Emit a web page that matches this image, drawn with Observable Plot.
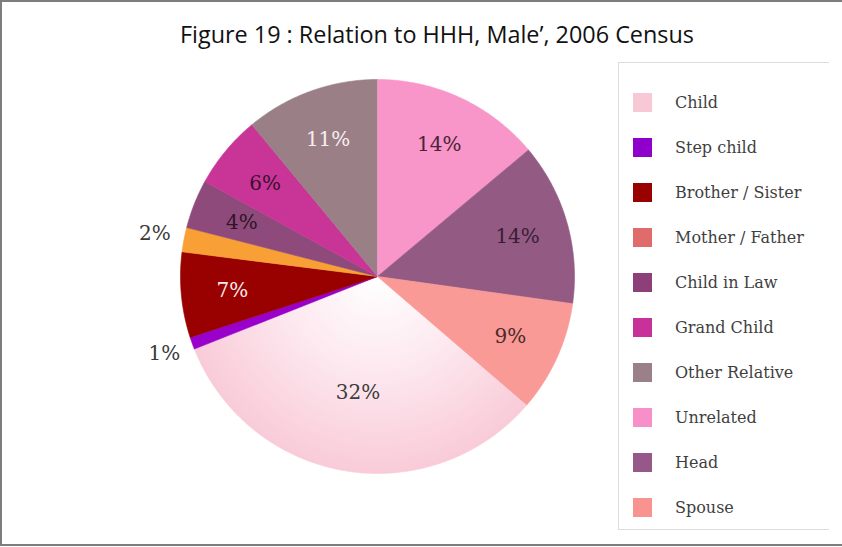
<!DOCTYPE html>
<html>
<head>
<meta charset="utf-8">
<script src="https://cdn.jsdelivr.net/npm/d3@7"></script>
<script src="https://cdn.jsdelivr.net/npm/@observablehq/plot@0.6"></script>
<style>
  html, body { margin: 0; padding: 0; background: #fff; }
  #page { position: relative; width: 842px; height: 547px; overflow: hidden; background: #fff; }
  #frame { position: absolute; left: 0; top: 0; width: 842px; height: 546px;
           border-left: 2px solid #7d7d7d; border-top: 2px solid #7d7d7d; border-bottom: 2px solid #7d7d7d;
           box-sizing: border-box; }
  #title { position: absolute; top: 17px; left: 437px; white-space: nowrap;
           font-family: "Open Sans", sans-serif; font-size: 24px; color: #111;
           transform-origin: center top; }
  #legend { position: absolute; left: 618px; top: 62px; width: 211px; height: 468px;
            border: 1px solid #dcdcdc; border-right: none; box-sizing: border-box; }
  .item { position: absolute; left: 14px; height: 20px; display: flex; align-items: center; }
  .sw { width: 19px; height: 19px; margin-right: 23px; }
  .lab { font-family: "DejaVu Serif", serif; font-size: 16px; color: #3f3f3f; white-space: nowrap; }
  #chart { position: absolute; left: 0; top: 0; }
</style>
</head>
<body>
<div id="page">
  <div id="frame"></div>
  <div id="title">Figure 19 : Relation to HHH, Male’, 2006 Census</div>
  <div id="chart"></div>
  <div id="legend"></div>
</div>
<script>
// ---- data (legend order) ----
const categories = ["Child", "Step child", "Brother / Sister", "Mother / Father", "Child in Law",
                    "Grand Child", "Other Relative", "Unrelated", "Head", "Spouse"];
const shares = [32.7, 1, 7, 2, 4, 6, 11, 13.9, 13.3, 9.1];
const labels = ["32%", "1%", "7%", "2%", "4%", "6%", "11%", "14%", "14%", "9%"];

// ---- styles ----
const legendColors = ["#f9c8d6", "#9000cc", "#990000", "#e06b6b", "#8c3f78",
                      "#c8309a", "#9a8088", "#f78fc8", "#955888", "#f8938f"];
const sliceColors = ["url(#childGrad)", "#9a00cc", "#990000", "#f8a035", "#8f4a7c",
                     "#c93596", "#9a7f87", "#f895c9", "#935b84", "#f99a96"];
const labelInk = {"Child": "#3c3c3c", "Step child": "#3a3a3a", "Brother / Sister": "#f6ecec",
                  "Mother / Father": "#3a3a3a", "Child in Law": "#2e1426", "Grand Child": "#3a0f2e",
                  "Other Relative": "#f6eef0", "Unrelated": "#4a2438", "Head": "#3a1d33", "Spouse": "#4a2a2a"};
const firstAtTop = "Unrelated";

// ---- geometry from data ----
const total = d3.sum(shares);
const before = d3.sum(shares.slice(0, categories.indexOf(firstAtTop)));
const start = -2 * Math.PI * before / total;
let acc = start;
const slices = categories.map((c, i) => {
  const a0 = acc, a1 = acc + 2 * Math.PI * shares[i] / total;
  acc = a1;
  return {cat: c, a0, a1, share: shares[i], label: labels[i]};
});
const pts = [];
for (const s of slices) {
  pts.push({cat: s.cat, x: 0, y: 0});
  const n = Math.max(4, Math.ceil((s.a1 - s.a0) / (Math.PI / 360)));
  for (let k = 0; k <= n; k++) {
    const a = s.a0 + (s.a1 - s.a0) * k / n;
    pts.push({cat: s.cat, x: Math.sin(a), y: Math.cos(a)});
  }
  pts.push({cat: s.cat, x: 0, y: 0});
}
const labelRows = slices.map(s => {
  const m = (s.a0 + s.a1) / 2;
  const r = s.share < 3 ? 1.15 : (s.share > 25 ? 0.6 : 0.74);
  return {cat: s.cat, text: s.label, x: r * Math.sin(m), y: r * Math.cos(m)};
});

const inks = [...new Set(Object.values(labelInk))];
const plot = Plot.plot({
  width: 842, height: 547, margin: 0,
  style: {background: "transparent", overflow: "visible"},
  x: {type: "linear", domain: [-1, 1], range: [180, 574], axis: null},
  y: {type: "linear", domain: [-1, 1], range: [473, 79], axis: null},
  color: {type: "ordinal", domain: categories, range: sliceColors},
  marks: [
    Plot.line(pts, {x: "x", y: "y", z: "cat", fill: "cat", stroke: "cat", strokeWidth: 0.6}),
    ...inks.map(ink => Plot.text(labelRows.filter(d => labelInk[d.cat] === ink), {
      x: "x", y: "y", text: "text", fill: ink,
      fontFamily: "DejaVu Serif", fontSize: 20
    }))
  ]
});
// radial gradient for the large "Child" slice, anchored at the pie centre
const cx = plot.scale("x").apply(0), cy = plot.scale("y").apply(0);
const rr = plot.scale("x").apply(1) - cx;
const defs = d3.select(plot).insert("defs", ":first-child");
const g = defs.append("radialGradient").attr("id", "childGrad")
  .attr("gradientUnits", "userSpaceOnUse").attr("cx", cx).attr("cy", cy).attr("r", rr);
g.append("stop").attr("offset", "0").attr("stop-color", "#ffffff");
g.append("stop").attr("offset", "0.45").attr("stop-color", "#fdeaf0");
g.append("stop").attr("offset", "1").attr("stop-color", "#f9cbd9");
document.getElementById("chart").appendChild(plot);

// legend
const legend = document.getElementById("legend");
const rowTop = 101 - 62 - 10, rowStep = 45;
categories.forEach((c, i) => {
  const it = document.createElement("div");
  it.className = "item";
  it.style.top = (rowTop + i * rowStep) + "px";
  it.innerHTML = `<div class="sw" style="background:${legendColors[i]}"></div><span class="lab">${c}</span>`;
  legend.appendChild(it);
});

// title width fit
const t = document.getElementById("title");
const w = t.getBoundingClientRect().width;
t.style.transform = `translateX(-50%) scaleX(${514 / w})`;
</script>
</body>
</html>
